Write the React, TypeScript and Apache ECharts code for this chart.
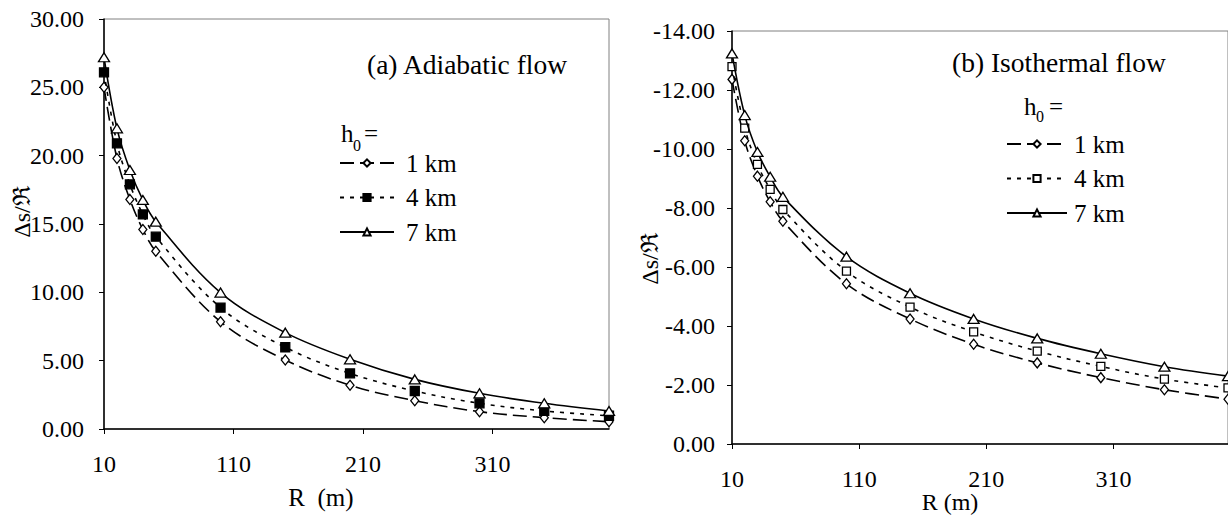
import React, { useEffect, useRef } from "react";
import * as echarts from "echarts";

const R = [10, 20, 30, 40, 50, 100, 150, 200, 250, 300, 350, 400];
const adiabatic1 = [25.0, 19.8, 16.8, 14.6, 13.0, 7.85, 5.05, 3.2, 2.07, 1.27, 0.83, 0.53];
const adiabatic4 = [26.1, 20.9, 17.9, 15.7, 14.07, 8.88, 5.98, 4.07, 2.78, 1.88, 1.32, 0.97];
const adiabatic7 = [27.2, 22.0, 18.95, 16.76, 15.17, 9.98, 7.05, 5.1, 3.63, 2.61, 1.88, 1.32];
const isothermal1 = [-12.36, -10.28, -9.08, -8.21, -7.55, -5.43, -4.24, -3.38, -2.75, -2.25, -1.84, -1.52];
const isothermal4 = [-12.79, -10.71, -9.48, -8.63, -7.95, -5.86, -4.64, -3.8, -3.15, -2.63, -2.2, -1.9];
const isothermal7 = [-13.24, -11.15, -9.9, -9.06, -8.38, -6.35, -5.11, -4.24, -3.58, -3.06, -2.62, -2.3];
const legendLabels = ["1 km", "4 km", "7 km"];
const titleA = "(a) Adiabatic flow";
const titleB = "(b) Isothermal flow";
const yName = "\u0394s/\u211C";
const xNameA = "R\u00A0\u00A0(m)";
const xNameB = "R (m)";

const FONT = '"Liberation Serif", "Times New Roman", "DejaVu Serif", serif';

export default function App() {
  const ref = useRef<HTMLDivElement>(null);
  useEffect(() => {
    if (!ref.current) return;
    const chart = echarts.init(ref.current, undefined, { renderer: "svg" });
    const names = ["a1", "a4", "a7", "b1", "b4", "b7"];
    const labelOf = (n: string) => legendLabels[["1", "4", "7"].indexOf(n.slice(1))];
    const dash1 = [14, 6];
    const dash4 = [4, 6];
    const mk = (name: string, data: number[], g: number, kind: number) => {
      const symbol = kind === 0 ? "diamond" : kind === 1 ? "rect" : "triangle";
      const fill = kind === 1 && g === 0 ? "#000" : "#fff";
      return {
        type: "line",
        name,
        xAxisIndex: g,
        yAxisIndex: g,
        data: R.map((r, i) => [r, data[i]]),
        smooth: 0.35,
        symbol,
        symbolSize: kind === 0 ? [8, 10] : kind === 1 ? (g === 0 ? 9 : 8) : [11, 9],
        showSymbol: true,
        clip: true,
        lineStyle: { color: "#000", width: 1.6, type: kind === 0 ? dash1 : kind === 1 ? dash4 : "solid" },
        itemStyle: { color: fill, borderColor: "#000", borderWidth: 1.3 },
        emphasis: { disabled: true },
        z: 3 + kind,
      };
    };
    const axisLabelCommon = { fontFamily: FONT, fontSize: 24, color: "#000" };
    const xAxisCommon = (g: number) => ({
      gridIndex: g,
      type: "value",
      min: 10,
      max: 400,
      interval: 100,
      axisLine: { onZero: false, lineStyle: { color: "#000", width: 1.5 } },
      axisTick: { length: 5, lineStyle: { color: "#000", width: 1 } },
      axisLabel: { ...axisLabelCommon, showMaxLabel: false, margin: 23 },
      splitLine: { show: false },
    });
    const legendCommon = {
      orient: "vertical",
      selectedMode: false,
      padding: 0,
      itemHeight: 9,
      itemGap: 9.5,
      formatter: (n: string) => labelOf(n),
    };
    const txt = (id: string, text: string, x: number, y: number, size: number, extra: any = {}) => ({
      type: "text",
      id,
      x,
      y,
      z: 100,
      ...extra,
      style: { text, fontFamily: FONT, fontSize: size, fill: "#000", align: "left", verticalAlign: "top", ...(extra.style || {}) },
    });
    chart.setOption({
      animation: false,
      backgroundColor: "#fff",
      grid: [
        { left: 104, top: 19, width: 505, height: 410, show: true, borderColor: "#808080", borderWidth: 1 },
        { left: 732, top: 31, width: 501, height: 413, show: true, borderColor: "#808080", borderWidth: 1 },
      ],
      xAxis: [xAxisCommon(0), xAxisCommon(1)],
      yAxis: [
        {
          gridIndex: 0,
          type: "value",
          min: 0,
          max: 30,
          interval: 5,
          axisLine: { show: true, lineStyle: { color: "#000", width: 1.5 } },
          axisTick: { show: true, length: 5, lineStyle: { color: "#000" } },
          axisLabel: { ...axisLabelCommon, margin: 20, formatter: (v: number) => v.toFixed(2) },
          splitLine: { show: false },
        },
        {
          gridIndex: 1,
          type: "value",
          min: -14,
          max: 0,
          interval: 2,
          inverse: true,
          axisLine: { show: true, onZero: false, lineStyle: { color: "#000", width: 1.5 } },
          axisTick: { show: true, length: 5, lineStyle: { color: "#000" } },
          axisLabel: { ...axisLabelCommon, margin: 17, formatter: (v: number) => v.toFixed(2) },
          splitLine: { show: false },
        },
      ],
      legend: [
        {
          ...legendCommon,
          data: names.slice(0, 3),
          left: 339,
          top: 150.5,
          itemWidth: 54,
          textStyle: { fontFamily: FONT, fontSize: 25, color: "#000", padding: [0, 0, 0, 7] },
        },
        {
          ...legendCommon,
          data: names.slice(3),
          left: 1006,
          top: 131.5,
          itemWidth: 60,
          textStyle: { fontFamily: FONT, fontSize: 25, color: "#000", padding: [0, 0, 0, 2] },
        },
      ],
      graphic: [
        txt("tA", titleA, 367, 50, 27.5),
        txt("tB", titleB, 952, 48, 27.5),
        txt("hA", "h", 341, 121, 25),
        txt("sA", "0", 353, 137, 16),
        txt("eA", "=", 364, 121, 25),
        txt("hB", "h", 1024, 94, 25),
        txt("sB", "0", 1036, 108, 16),
        txt("eB", "=", 1049, 94, 25),
        txt("yA", yName, 22, 212, 24, { rotation: Math.PI / 2, style: { align: "center", verticalAlign: "middle" } }),
        txt("yB", yName, 650, 259, 24, { rotation: Math.PI / 2, style: { align: "center", verticalAlign: "middle" } }),
        txt("xA", xNameA, 321, 497, 25, { style: { align: "center", verticalAlign: "middle" } }),
        txt("xB", xNameB, 950, 502, 24, { style: { align: "center", verticalAlign: "middle" } }),
      ],
      series: [
        mk("a1", adiabatic1, 0, 0),
        mk("a4", adiabatic4, 0, 1),
        mk("a7", adiabatic7, 0, 2),
        mk("b1", isothermal1, 1, 0),
        mk("b4", isothermal4, 1, 1),
        mk("b7", isothermal7, 1, 2),
      ],
    });
    return () => chart.dispose();
  }, []);
  return <div ref={ref} style={{ position: "fixed", left: 0, top: 0, width: 1228, height: 516 }} />;
}
